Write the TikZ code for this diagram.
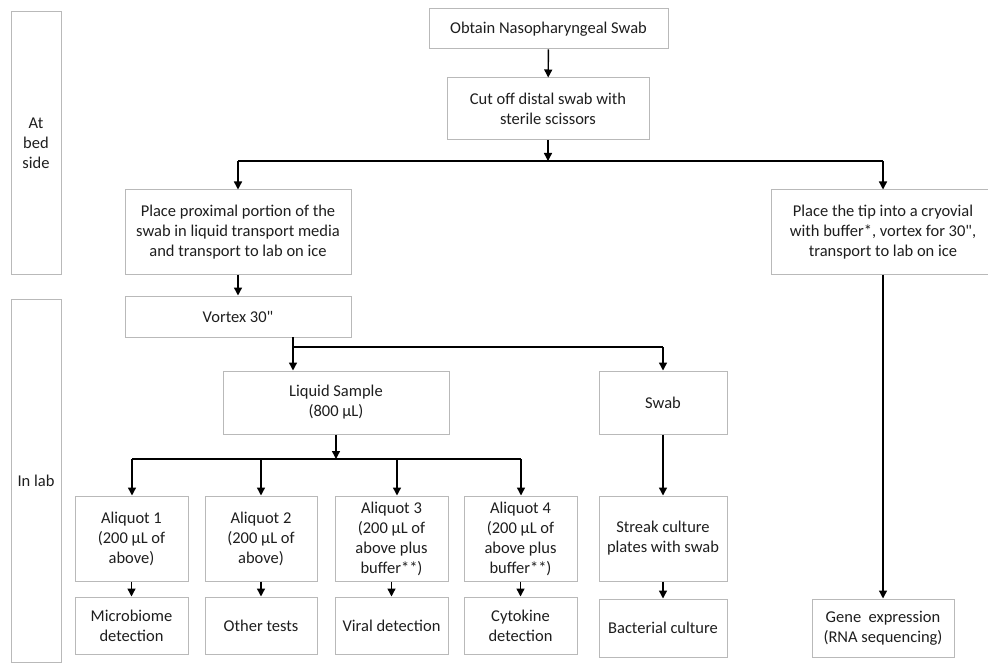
\documentclass[tikz,border=0pt]{standalone}
\usepackage{fontspec}
\setmainfont{Carlito}[Ligatures=TeXOff]
\usetikzlibrary{arrows.meta}
\definecolor{boxgray}{RGB}{185,185,185}
\definecolor{txt}{RGB}{30,30,30}
\begin{document}
\begin{tikzpicture}[x=1pt,y=-1pt,
  box/.style={draw=boxgray, line width=1pt, fill=white, inner sep=0pt, align=center,
    text=txt, font=\fontsize{16.5}{20}\selectfont},
  arr/.style={line width=1.4pt, -{Triangle[width=8pt,length=8pt]}},
  ln/.style={line width=1.4pt}]
\useasboundingbox (0,0) rectangle (988,663);
\fill[white] (0,0) rectangle (988,663);
% side labels
\node[box, minimum width=50, minimum height=262] (bed) at (36,143) {At\\bed\\side};
\node[box, minimum width=50, minimum height=363] (lab) at (36,480.5) {In lab};
% top
\node[box, minimum width=239, minimum height=40] (obtain) at (548.5,29) {Obtain Nasopharyngeal Swab};
\node[box, minimum width=202, minimum height=62] (cut) at (548,109) {Cut off distal swab with\\sterile scissors};
\node[box, minimum width=226, minimum height=84] (placeL) at (238,232) {Place proximal portion of the\\swab in liquid transport media\\and transport to lab on ice};
\node[box, minimum width=224, minimum height=84] (placeR) at (883,232) {Place the tip into a cryovial\\with buffer*, vortex for 30",\\transport to lab on ice};
\node[box, minimum width=226, minimum height=41] (vortex) at (238,316.5) {Vortex 30"};
\node[box, minimum width=226, minimum height=63] (liquid) at (336,402.5) {Liquid Sample\\(800 µL)};
\node[box, minimum width=128, minimum height=63] (swab) at (663,402.5) {Swab};
% aliquots
\node[box, minimum width=113, minimum height=85] (a1) at (131.5,538.5) {Aliquot 1\\(200 µL of\\above)};
\node[box, minimum width=112, minimum height=85] (a2) at (261,538.5) {Aliquot 2\\(200 µL of\\above)};
\node[box, minimum width=113, minimum height=85] (a3) at (391.5,538.5) {Aliquot 3\\(200 µL of\\above plus\\buffer**)};
\node[box, minimum width=113, minimum height=85] (a4) at (520.5,538.5) {Aliquot 4\\(200 µL of\\above plus\\buffer**)};
\node[box, minimum width=128, minimum height=85] (streak) at (663,538.5) {Streak culture\\plates with swab};
% bottom
\node[box, minimum width=113, minimum height=57] (b1) at (131.5,625.5) {Microbiome\\detection};
\node[box, minimum width=112, minimum height=57] (b2) at (261,625.5) {Other tests};
\node[box, minimum width=113, minimum height=57] (b3) at (391.5,625.5) {Viral detection};
\node[box, minimum width=113, minimum height=57] (b4) at (520.5,625.5) {Cytokine\\detection};
\node[box, minimum width=128, minimum height=58] (bact) at (663,628) {Bacterial culture};
\node[box, minimum width=142, minimum height=58] (gene) at (883,628) {Gene\ \ expression\\(RNA sequencing)};
% junction coordinates
\coordinate (j1) at (548,161);
\coordinate (j1L) at (238,161);
\coordinate (j1R) at (883,161);
\coordinate (v0) at (293,337);
\coordinate (j2) at (293,347);
\coordinate (j2R) at (663,347);
\coordinate (j3) at (336,459);
\coordinate (j3L) at (132,459);
\coordinate (j3R) at (521,459);
% connectors
\draw[arr] (obtain) -- (cut);
\draw[arr] (cut.south) -- (j1);
\draw[ln] (j1L) -- (j1R);
\draw[arr] (j1L) -- (placeL.north);
\draw[arr] (j1R) -- (placeR.north);
\draw[arr] (placeL) -- (vortex);
\draw[ln] (v0) -- (j2) -- (j2R);
\draw[arr] (j2) -- (j2 |- liquid.north);
\draw[arr] (j2R) -- (swab.north);
\draw[arr] (liquid.south) -- (j3);
\draw[ln] (j3L) -- (j3R);
\draw[arr] (j3L) -- (j3L |- a1.north);
\draw[arr] (a2.north |- j3) -- (a2.north);
\draw[arr] ([xshift=5.5pt]a3.north |- j3) -- ([xshift=5.5pt]a3.north);
\draw[arr] (j3R) -- (j3R |- a4.north);
\draw[arr] (a1) -- (b1);
\draw[arr] (a2) -- (b2);
\draw[arr] (a3) -- (b3);
\draw[arr] (a4) -- (b4);
\draw[arr] (swab) -- (streak);
\draw[arr] (streak) -- (bact);
\draw[arr] (placeR) -- (gene);
\end{tikzpicture}
\end{document}
